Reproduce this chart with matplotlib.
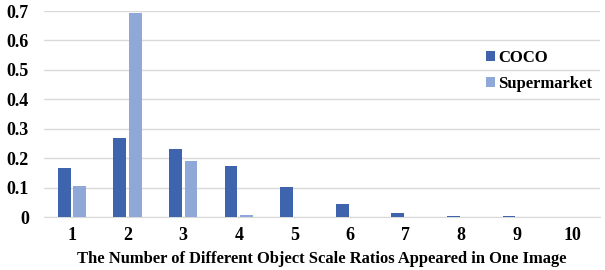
import numpy as np
import matplotlib
matplotlib.use('Agg')
import matplotlib.pyplot as plt

categories = ['1', '2', '3', '4', '5', '6', '7', '8', '9', '10']
coco = [0.167, 0.268, 0.230, 0.175, 0.102, 0.044, 0.013, 0.004, 0.004, 0.0]
supermarket = [0.105, 0.695, 0.189, 0.008, 0.0, 0.0, 0.0, 0.0, 0.0, 0.0]
yticks = [0, 0.1, 0.2, 0.3, 0.4, 0.5, 0.6, 0.7]
ytick_labels = ['0', '0.1', '0.2', '0.3', '0.4', '0.5', '0.6', '0.7']

plt.rcParams['font.family'] = ['Liberation Serif', 'DejaVu Serif']

fig = plt.figure(figsize=(6.05, 2.70), dpi=100)
ax = fig.add_axes([0.073, 0.196, 0.919, 0.763])

x = np.arange(len(categories))
w = 0.23
gap = 0.05
ax.bar(x - (w + gap) / 2, coco, width=w, color='#3E64AE', label='COCO', zorder=3)
ax.bar(x + (w + gap) / 2, supermarket, width=w, color='#8FA8D8', label='Supermarket', zorder=3)

ax.set_xlim(-0.5, len(categories) - 0.5)
ax.set_ylim(0, 0.7)
ax.set_yticks(yticks)
ax.set_yticklabels(ytick_labels, fontsize=13, fontweight='bold')
ax.set_xticks(x)
ax.set_xticklabels(categories, fontsize=13, fontweight='bold')
ax.tick_params(axis='x', length=0, pad=7)
ax.tick_params(axis='y', length=0, pad=11)
ax.grid(axis='y', color='#d9d9d9', linewidth=1, zorder=0)
for s in ['top', 'right', 'left']:
    ax.spines[s].set_visible(False)
ax.spines['bottom'].set_color('#d9d9d9')

ax.set_xlabel('The Number of Different Object Scale Ratios Appeared in One Image',
              fontsize=11.9, fontweight='bold', labelpad=5)

leg = ax.legend(loc='upper left', bbox_to_anchor=(0.767, 0.885), frameon=False,
                prop={'weight': 'bold', 'size': 12}, handlelength=0.55, handleheight=0.55,
                handletextpad=0.2, labelspacing=0.6)

plt.savefig('out.png', dpi=100)
